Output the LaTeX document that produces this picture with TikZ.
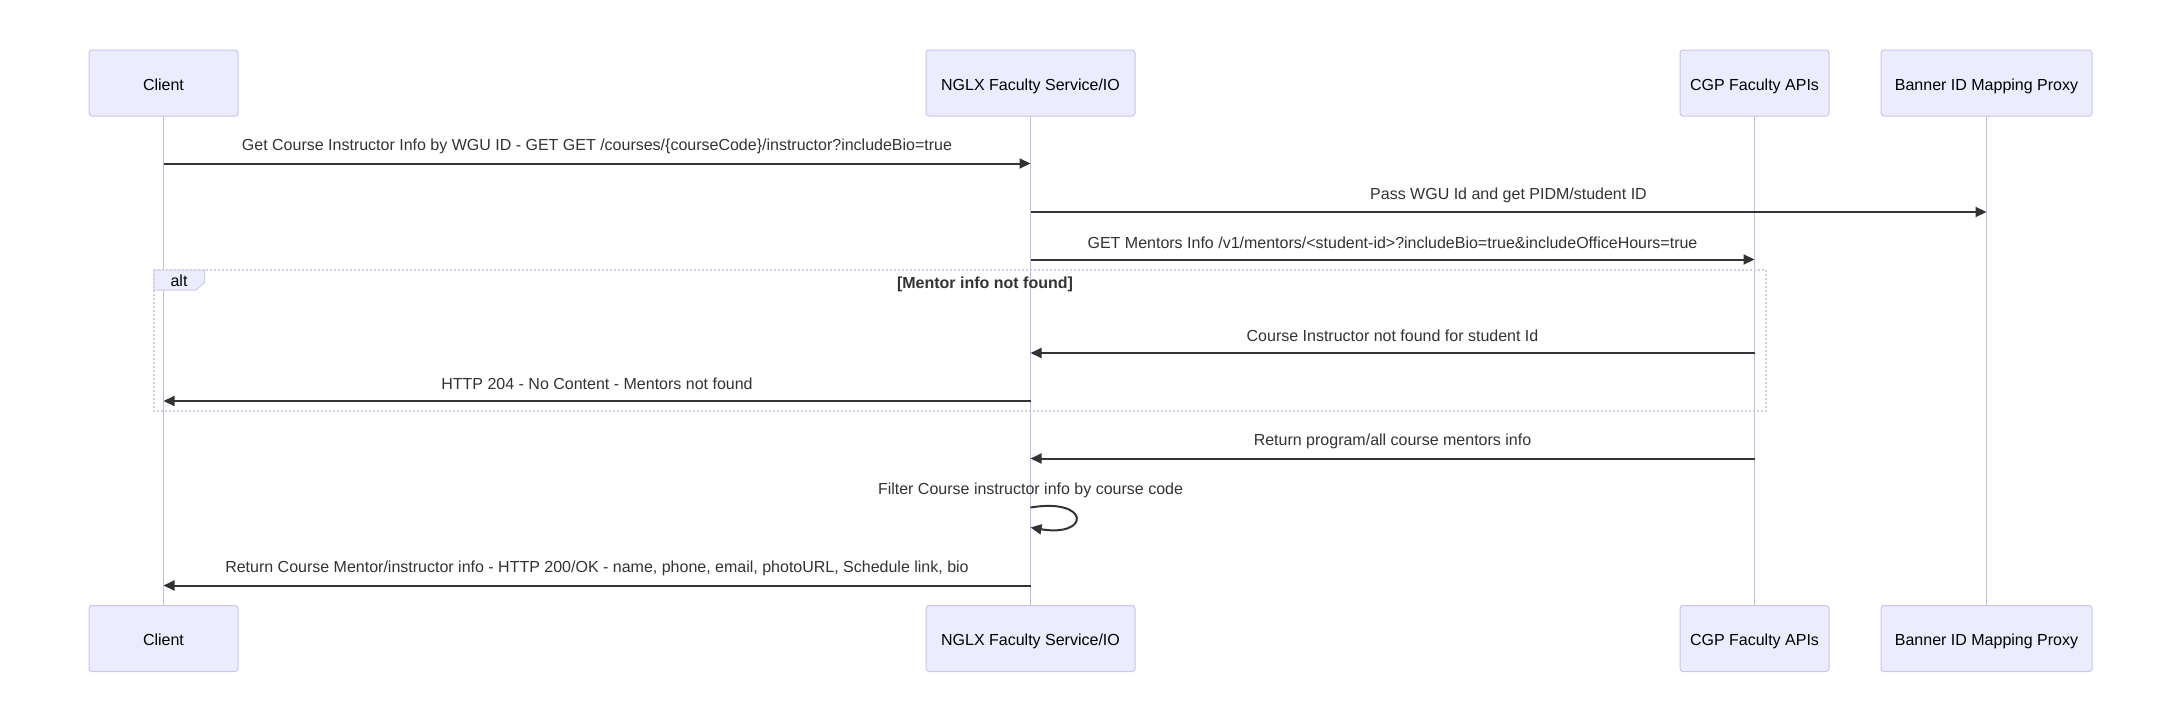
\documentclass[tikz,border=0pt]{standalone}
\usepackage{fontspec}
\setmainfont{Liberation Sans}
\usetikzlibrary{arrows.meta,shapes.geometric}
\definecolor{actfill}{HTML}{ECECFF}
\definecolor{actline}{HTML}{CCC3EE}
\definecolor{lifeln}{HTML}{C4BAE8}
\definecolor{sig}{HTML}{333333}
\definecolor{loopln}{HTML}{D2CCE6}
\tikzset{
  actor/.style={draw=actline, fill=actfill, line width=1pt, rounded corners=3pt,
    minimum height=66pt, inner sep=0pt, text height=14.5pt, text depth=0pt,
    font=\fontsize{16}{19}\selectfont, text=black},
  lifeline/.style={draw=lifeln, line width=1.5pt},
  msg/.style={draw=sig, line width=2pt, -{Triangle[length=11pt,width=10pt]}},
  msglabel/.style={font=\fontsize{16}{19}\selectfont, text=sig, inner sep=0pt},
  altframe/.style={draw=loopln, line width=2pt, dash pattern=on 2pt off 2pt},
  alttab/.style={draw=loopln, fill=actfill, line width=1pt},
}
\begin{document}
\begin{tikzpicture}[x=1pt,y=-1pt]
\useasboundingbox[fill=white] (0,0) rectangle (2183,720);
% top actors
\node[actor, minimum width=149pt] (cT) at (163.5,83) {Client};
\node[actor, minimum width=209pt] (nT) at (1030.5,83) {NGLX Faculty Service/IO};
\node[actor, minimum width=149pt] (gT) at (1754.5,83) {CGP Faculty APIs};
\node[actor, minimum width=211pt] (bT) at (1986.5,83) {Banner ID Mapping Proxy};
% bottom actors
\node[actor, minimum width=149pt] (cB) at (163.5,638.5) {Client};
\node[actor, minimum width=209pt] (nB) at (1030.5,638.5) {NGLX Faculty Service/IO};
\node[actor, minimum width=149pt] (gB) at (1754.5,638.5) {CGP Faculty APIs};
\node[actor, minimum width=211pt] (bB) at (1986.5,638.5) {Banner ID Mapping Proxy};
% lifelines
\draw[lifeline] (cT) -- (cB);
\draw[lifeline] (nT) -- (nB);
\draw[lifeline] (gT) -- (gB);
\draw[lifeline] (bT) -- (bB);
% alt frame
\draw[altframe] (154,270) rectangle (1766,411);
\draw[alttab] (154,270) -- (204.5,270) -- (204.5,282.5) -- (196,290) -- (154,290) -- cycle;
\node[msglabel, text=black] (altlbl) at (179,281) {alt};
\node[msglabel, font=\fontsize{16}{19}\selectfont\bfseries, text=sig] (altcond) at (985,284.5) {[Mentor info not found]};
% message endpoints
\coordinate (m1a) at (163.5,163.5); \coordinate (m1b) at (1030.5,163.5);
\coordinate (m2a) at (1030.5,212); \coordinate (m2b) at (1986.5,212);
\coordinate (m3a) at (1030.5,259.5); \coordinate (m3b) at (1754.5,259.5);
\coordinate (m4a) at (1754.5,353); \coordinate (m4b) at (1030.5,353);
\coordinate (m5a) at (1030.5,401); \coordinate (m5b) at (163.5,401);
\coordinate (m6a) at (1754.5,458.5); \coordinate (m6b) at (1030.5,458.5);
\coordinate (m7a) at (1030.5,507.5); \coordinate (m7b) at (1030.5,527.5);
\coordinate (m8a) at (1030.5,585.5); \coordinate (m8b) at (163.5,585.5);
% messages
\node[msglabel] (l1) at (597,146.5) {Get Course Instructor Info by WGU ID - GET GET /courses/\{courseCode\}/instructor?includeBio=true};
\draw[msg] (m1a) -- (m1b);
\node[msglabel] (l2) at (1508.5,195) {Pass WGU Id and get PIDM/student ID};
\draw[msg] (m2a) -- (m2b);
\node[msglabel] (l3) at (1392.5,242.5) {GET Mentors Info /v1/mentors/<student-id>?includeBio=true\&includeOfficeHours=true};
\draw[msg] (m3a) -- (m3b);
\node[msglabel] (l4) at (1392.5,336) {Course Instructor not found for student Id};
\draw[msg] (m4a) -- (m4b);
\node[msglabel] (l5) at (597,384) {HTTP 204 - No Content - Mentors not found};
\draw[msg] (m5a) -- (m5b);
\node[msglabel] (l6) at (1392.5,441.5) {Return program/all course mentors info};
\draw[msg] (m6a) -- (m6b);
\node[msglabel] (l7) at (1030.5,490.5) {Filter Course instructor info by course code};
\draw[msg] (m7a) .. controls (1090.5,497.5) and (1090.5,537.5) .. (m7b);
\node[msglabel] (l8) at (597,568.5) {Return Course Mentor/instructor info - HTTP 200/OK - name, phone, email, photoURL, Schedule link, bio};
\draw[msg] (m8a) -- (m8b);
\end{tikzpicture}
\end{document}
